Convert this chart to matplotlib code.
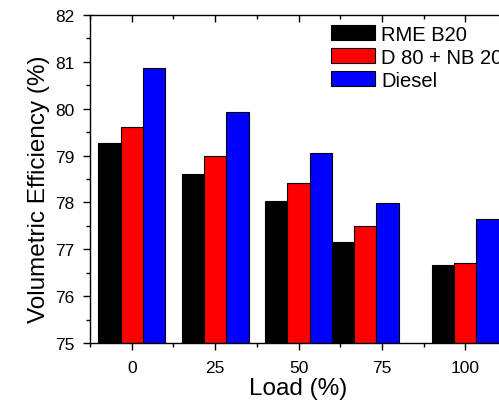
import matplotlib
matplotlib.use("Agg")
import matplotlib.pyplot as plt
from matplotlib.ticker import MultipleLocator

plt.rcParams['font.family'] = ['Liberation Sans', 'DejaVu Sans']

# Engine load points (bar-group positions) and the axis tick labels
load_positions = [0, 25, 50, 70, 100]
load_ticks = [0, 25, 50, 75, 100]

series_names = ["RME B20", "D 80 + NB 20", "Diesel"]
rme_b20 = [79.27, 78.61, 78.02, 77.16, 76.66]
d80_nb20 = [79.62, 78.99, 78.41, 77.50, 76.70]
diesel = [80.86, 79.92, 79.05, 77.98, 77.64]
series_values = [rme_b20, d80_nb20, diesel]
series_colors = ["#000000", "#ff0000", "#0000ff"]

W, H = 499, 402
fig = plt.figure(figsize=(W / 100, H / 100), dpi=100)
ax = fig.add_axes([90 / W, 1 - 344 / H, (507 - 90) / W, (344 - 16) / H])

bar_w = 6.7
for i, (name, vals, col) in enumerate(zip(series_names, series_values, series_colors)):
    xs = [p + (i - 1) * bar_w for p in load_positions]
    ax.bar(xs, [v - 75 for v in vals], bottom=75, width=bar_w, color=col,
           edgecolor="black", linewidth=0.8, label=name, zorder=2)

ax.set_xlim(-12.5, 112.5)
ax.set_ylim(75, 82)
ax.set_xticks(load_ticks)
ax.set_xticklabels([str(t) for t in load_ticks])
ax.xaxis.set_minor_locator(MultipleLocator(12.5))
ax.yaxis.set_major_locator(MultipleLocator(1))
ax.yaxis.set_minor_locator(MultipleLocator(0.5))

for s in ax.spines.values():
    s.set_linewidth(1.0)

ax.tick_params(axis='both', which='major', direction='out', length=5, width=1.0,
               labelsize=12.5, pad=6)
ax.tick_params(axis='both', which='minor', direction='out', length=3, width=1.0)
ax.tick_params(axis='x', which='both', top=True)
ax.tick_params(axis='x', which='major', pad=7)

# top axis ticks point inward
for t in ax.xaxis.get_major_ticks() + ax.xaxis.get_minor_ticks():
    t.tick2line.set_marker(matplotlib.markers.TICKDOWN)

ax.set_xlabel("Load (%)", fontsize=17.5, labelpad=2)
ax.set_ylabel("Volumetric Efficiency (%)", fontsize=17.5)
ax.yaxis.set_label_coords(-39.5 / 417, (344 - 189.5) / 328)

leg = ax.legend(loc='upper left', bbox_to_anchor=(331 / W, 1 - 25.5 / H),
                bbox_transform=fig.transFigure, frameon=False, fontsize=14.5,
                handlelength=2.2, handleheight=0.82, handletextpad=0.3,
                labelspacing=0.2, borderpad=0, borderaxespad=0)

fig.savefig("out.png", dpi=100)
